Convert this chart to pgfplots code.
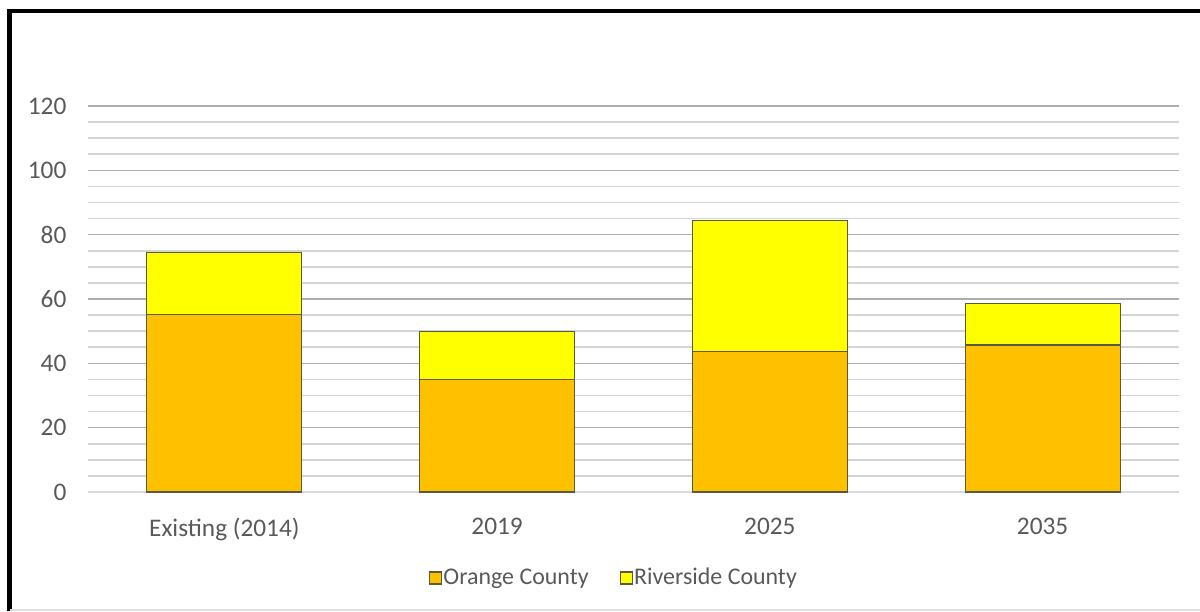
\documentclass[border=0pt]{standalone}
\usepackage{pgfplots}
\pgfplotsset{compat=1.18}
\usepackage{fontspec}
\setmainfont{Carlito}
\definecolor{orangec}{HTML}{FFC000}
\definecolor{yellowc}{HTML}{FFFF00}
\definecolor{txt}{HTML}{595959}
\definecolor{edge}{HTML}{5A5A40}
\begin{document}
\begin{tikzpicture}[x=1bp,y=1bp]
\path[use as bounding box] (0,0) rectangle (600,305.5);
\draw[black, line width=2.2bp] (4.8,0) -- (4.8,300) -- (600,300);
\draw[black!12, line width=1bp] (4.8,0.6) -- (600,0.6);
\begin{axis}[at={(44bp,59.5bp)}, anchor=south west, scale only axis,
  width=545.5bp, height=193bp,
  ybar stacked, bar width=77.5bp,
  xmin=-0.5, xmax=3.5, ymin=0, ymax=120,
  xtick={0,1,2,3}, xticklabels={Existing (2014),2019,2025,2035},
  ytick={0,20,...,120}, minor ytick={5,10,...,115},
  ymajorgrids, yminorgrids,
  /pgf/number format/assume math mode=true,
  major grid style={color=black!32, line width=0.8bp},
  minor grid style={color=black!17, line width=0.8bp},
  axis line style={draw=none}, tick style={draw=none},
  major tick length=0pt, minor tick length=0pt,
  ticklabel style={font=\fontsize{12.7}{15}\selectfont, text=txt},
  yticklabel style={xshift=-7.3bp},
  xticklabel style={yshift=-9.5bp},
  legend style={at={(0.4817,-0.2228)}, anchor=center, draw=none, fill=none,
    legend columns=2, font=\fontsize{12}{14}\selectfont, text=txt,
    nodes={inner xsep=0.6bp},
    /tikz/every even column/.append style={column sep=15bp},
    inner sep=0pt},
  legend image code/.code={\draw[#1] (0bp,-3bp) rectangle (6bp,3bp);},
  legend cell align=left,
]
\addplot[fill=orangec, draw=edge, line width=0.6bp] coordinates {(0,55.2) (1,35) (2,43.8) (3,45.7)};
\addplot[fill=yellowc, draw=edge, line width=0.6bp] coordinates {(0,19.2) (1,15) (2,40.7) (3,12.9)};
\legend{Orange County, Riverside County}
\draw[black!15, line width=1.2bp] (rel axis cs:0,0) -- (rel axis cs:1,0);
\end{axis}
\end{tikzpicture}
\end{document}
